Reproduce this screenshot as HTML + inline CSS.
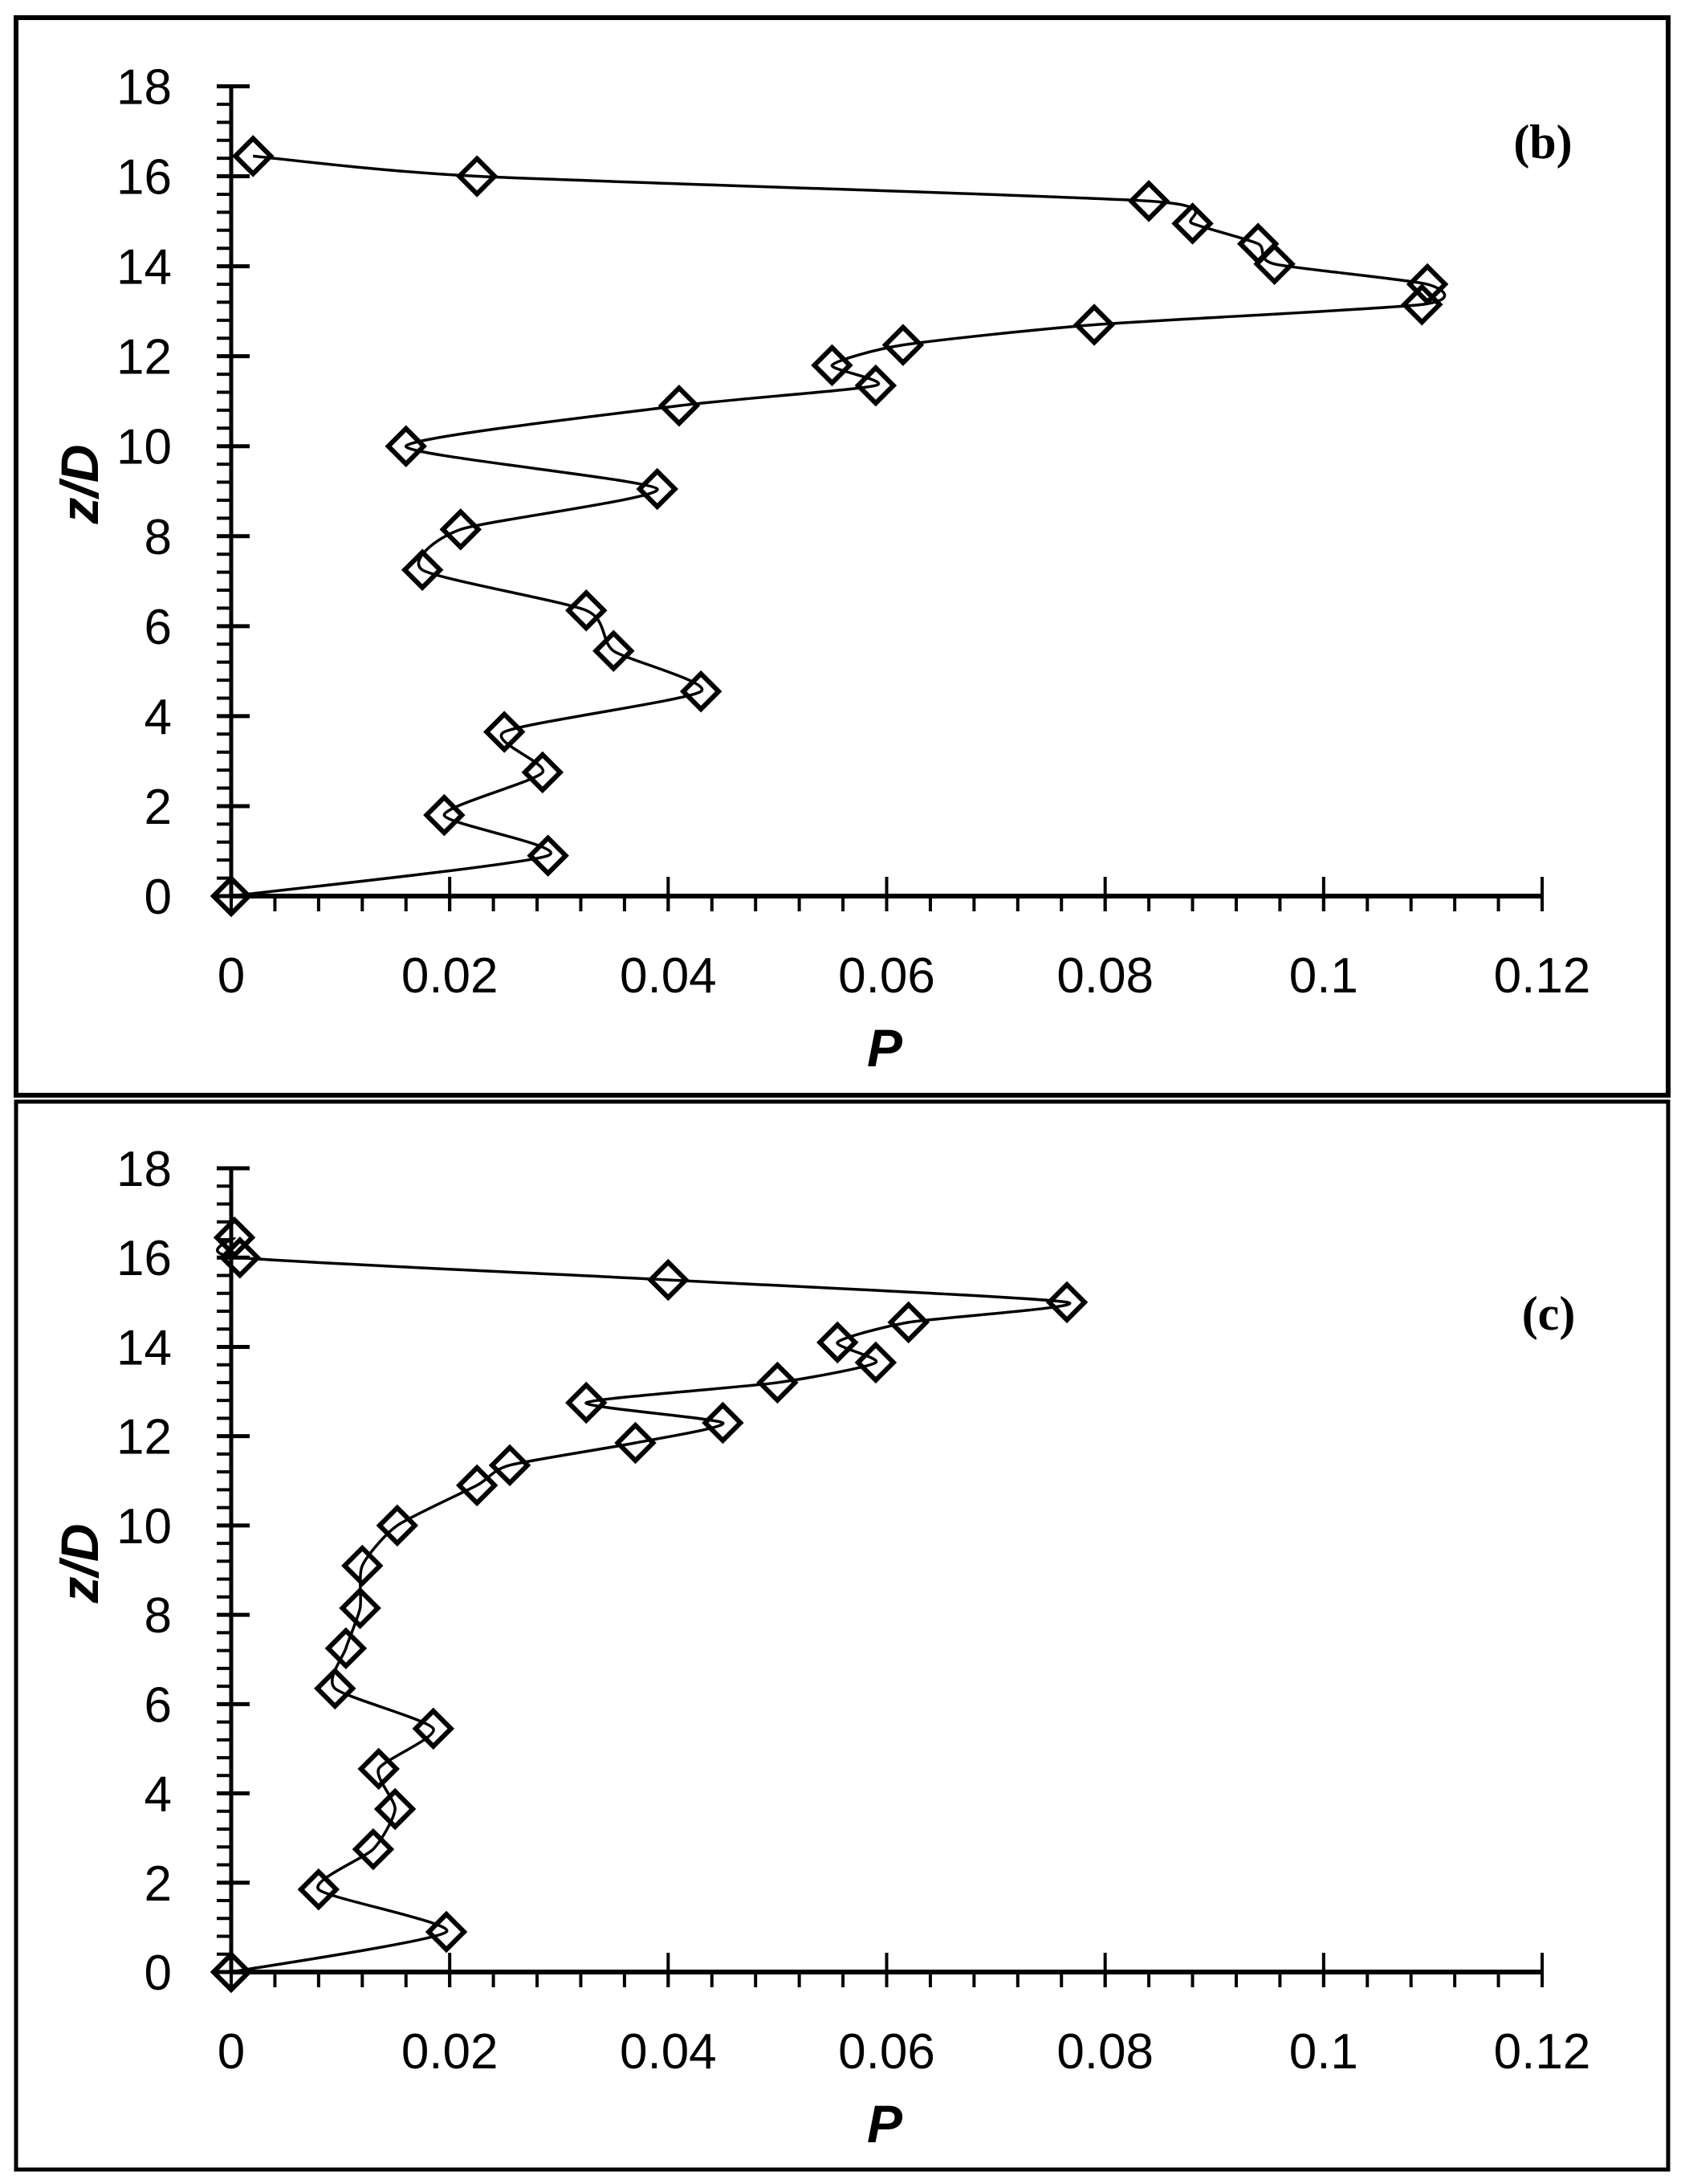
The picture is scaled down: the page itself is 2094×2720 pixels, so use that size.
<!DOCTYPE html>
<html><head><meta charset="utf-8">
<style>
html,body{margin:0;padding:0;background:#fff;}
svg{display:block;}
text{font-family:"Liberation Sans",sans-serif;fill:#000;}
</style></head>
<body>
<svg id="fig" width="2094" height="2720" viewBox="0 0 2094 2720" xmlns="http://www.w3.org/2000/svg">
  <rect x="20" y="22" width="2058" height="1342" fill="none" stroke="#000" stroke-width="6"/>
  <rect x="20" y="1372" width="2058" height="1330" fill="none" stroke="#000" stroke-width="5"/>
  <g id="pb"></g>
  <g id="pc"></g>
</svg>
<script>
const xTicks = [0, 0.02, 0.04, 0.06, 0.08, 0.1, 0.12];
const xTickLabels = ["0", "0.02", "0.04", "0.06", "0.08", "0.1", "0.12"];
const yTicks = [0, 2, 4, 6, 8, 10, 12, 14, 16, 18];
const yTickLabels = ["0", "2", "4", "6", "8", "10", "12", "14", "16", "18"];
const bP = [0, 0.029, 0.0195, 0.0285, 0.025, 0.043, 0.035, 0.0325, 0.0175, 0.021, 0.039, 0.016, 0.041, 0.059, 0.055, 0.0615, 0.079, 0.109, 0.1095, 0.0955, 0.094, 0.088, 0.084, 0.0225, 0.002];
const bZ = [0, 0.9, 1.8, 2.75, 3.65, 4.55, 5.45, 6.35, 7.25, 8.15, 9.05, 10, 10.9, 11.35, 11.8, 12.25, 12.7, 13.15, 13.6, 14.05, 14.5, 14.95, 15.45, 16, 16.45];
const cP = [0, 0.0197, 0.008, 0.013, 0.015, 0.0135, 0.0185, 0.0095, 0.0105, 0.0118, 0.012, 0.0152, 0.0225, 0.0255, 0.037, 0.045, 0.0325, 0.050, 0.059, 0.0555, 0.062, 0.0765, 0.040, 0.0008, 0.0003];
const cZ = [0, 0.9, 1.85, 2.75, 3.65, 4.55, 5.45, 6.35, 7.25, 8.15, 9.1, 10, 10.9, 11.35, 11.85, 12.3, 12.75, 13.2, 13.65, 14.1, 14.55, 15, 15.5, 16, 16.45];

const NS = "http://www.w3.org/2000/svg";
function mk(tag, attrs, parent){
  const e = document.createElementNS(NS, tag);
  for (const k in attrs) e.setAttribute(k, attrs[k]);
  parent.appendChild(e);
  return e;
}
function drawPanel(g, P, Z, y18, y0, tag, tagX, tagY, zlabelY){
  const xs = v => 288 + v / 0.12 * (1921 - 288);
  const ys = v => y0 - v / 18 * (y0 - y18);
  let e = mk("line", {x1:288, y1:ys(18), x2:288, y2:y0, stroke:"#000", "stroke-width":5}, g);
  
  
  for (let v = 0; v <= 18.001; v += 0.4) {
    const t = mk("line", {x1:270, y1:ys(v), x2:288, y2:ys(v), stroke:"#000", "stroke-width":4}, g);
    
    
  }
  yTicks.forEach((v, i) => {
    const t = mk("line", {x1:270, y1:ys(v), x2:311, y2:ys(v), stroke:"#000", "stroke-width":5}, g);
    
    
    const l = mk("text", {x:214, y:ys(v) + 22, "text-anchor":"end", "font-size":62}, g);
    l.textContent = yTickLabels[i];
    
    
  });
  e = mk("line", {x1:286, y1:y0, x2:1921, y2:y0, stroke:"#000", "stroke-width":6}, g);
  
  
  for (let v = 0.004; v <= 0.1201; v += 0.004) {
    const t = mk("line", {x1:xs(v), y1:y0, x2:xs(v), y2:y0 + 19, stroke:"#000", "stroke-width":4}, g);
    
    
  }
  xTicks.forEach((v, i) => {
    const t = mk("line", {x1:xs(v), y1:y0 - 24, x2:xs(v), y2:y0 + 19, stroke:"#000", "stroke-width":4}, g);
    
    
    const l = mk("text", {x:xs(v), y:y0 + 120, "text-anchor":"middle", "font-size":62}, g);
    l.textContent = xTickLabels[i];
    
    
  });
  const xt = mk("text", {x:1102, y:y0 + 212, "text-anchor":"middle", "font-size":66, "font-weight":"bold", "font-style":"italic"}, g);
  xt.textContent = "P";
  
  
  const yt = mk("text", {x:0, y:0, "text-anchor":"middle", "font-size":66, "font-weight":"bold", "font-style":"italic", transform:"translate(122," + zlabelY + ") rotate(-90)"}, g);
  yt.textContent = "z/D";
  
  
  const tg = mk("text", {x:tagX, y:tagY, "text-anchor":"middle", "font-size":60, "font-weight":"bold", style:"font-family:'Liberation Serif',serif"}, g);
  tg.textContent = tag;
  
  
  const pts = P.map((p, i) => [xs(p), ys(Z[i])]);
  let d = "M" + pts[0][0] + "," + pts[0][1];
  const k = 0.11;
  for (let i = 0; i < pts.length - 1; i++) {
    const p0 = pts[Math.max(i - 1, 0)], p1 = pts[i], p2 = pts[i + 1], p3 = pts[Math.min(i + 2, pts.length - 1)];
    const c1 = [p1[0] + (p2[0] - p0[0]) * k, p1[1] + (p2[1] - p0[1]) * k];
    const c2 = [p2[0] - (p3[0] - p1[0]) * k, p2[1] - (p3[1] - p1[1]) * k];
    d += " C" + c1[0] + "," + c1[1] + " " + c2[0] + "," + c2[1] + " " + p2[0] + "," + p2[1];
  }
  const path = mk("path", {d:d, fill:"none", stroke:"#000", "stroke-width":3.5}, g);
  
  
  pts.forEach(p => {
    const s = 22;
    const m = mk("polygon", {points:(p[0]) + "," + (p[1] - s) + " " + (p[0] + s) + "," + p[1] + " " + p[0] + "," + (p[1] + s) + " " + (p[0] - s) + "," + p[1], fill:"none", stroke:"#000", "stroke-width":6}, g);
    
    
  });
}
drawPanel(document.getElementById("pb"), bP, bZ, 107.5, 1116, "(b)", 1922, 197, 603);
drawPanel(document.getElementById("pc"), cP, cZ, 1455, 2456, "(c)", 1929, 1656, 1947);
</script>
</body></html>
